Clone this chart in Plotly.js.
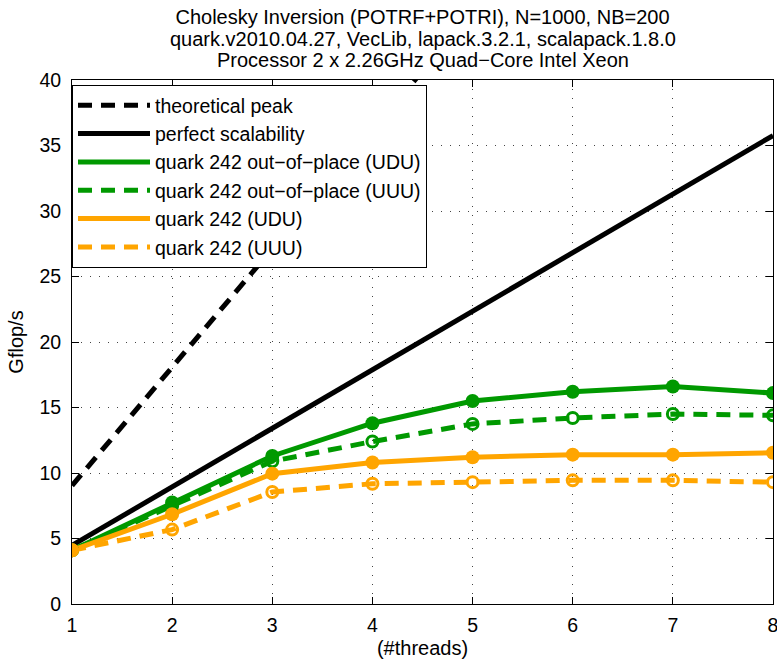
<!DOCTYPE html>
<html><head><meta charset="utf-8">
<script src="https://cdn.plot.ly/plotly-3.0.1.min.js"></script>
<style>html,body{margin:0;padding:0;background:#fff}#chart{width:777px;height:659px}</style>
</head><body><div id="chart"></div>
<script>
const threads = [1, 2, 3, 4, 5, 6, 7, 8];
const theoreticalPeak = [9.04, 18.08, 27.12, 36.16, 45.2, 54.24, 63.28, 72.32];
const perfectScalability = [4.47, 8.94, 13.41, 17.88, 22.35, 26.82, 31.29, 35.76];
const oopUDU = [4.1, 7.75, 11.3, 13.8, 15.5, 16.2, 16.6, 16.1];
const oopUUU = [4.1, 7.5, 10.9, 12.4, 13.75, 14.2, 14.5, 14.4];
const quarkUDU = [4.1, 6.85, 9.95, 10.8, 11.2, 11.4, 11.4, 11.55];
const quarkUUU = [4.1, 5.68, 8.55, 9.18, 9.3, 9.44, 9.44, 9.3];
const titleLines = [
  'Cholesky Inversion (POTRF+POTRI), N=1000, NB=200',
  'quark.v2010.04.27, VecLib, lapack.3.2.1, scalapack.1.8.0',
  'Processor 2 x 2.26GHz Quad\u2212Core Intel Xeon'
];

const GREEN = '#009900', ORANGE = '#FFA500';
const FONT = '"Liberation Sans", Arial, Helvetica, sans-serif';
const lw = 5;
const DASH = '14px,9px';
function line(name, y, color, dash) {
  return {x: threads, y: y, name: name, mode: 'lines', type: 'scatter',
    line: {color: color, width: lw, dash: dash}};
}
function marks(y, color, open) {
  return {x: threads, y: y, mode: 'markers', type: 'scatter', showlegend: false, hoverinfo: 'skip',
    marker: open ? {symbol: 'circle-open', size: 11, color: color, line: {width: 3, color: color}}
                 : {symbol: 'circle', size: 14, color: color}};
}
const traces = [
  line('theoretical peak', theoreticalPeak, '#000', DASH),
  line('perfect scalability', perfectScalability, '#000', 'solid'),
  line('quark 242 out\u2212of\u2212place (UDU)', oopUDU, GREEN, 'solid'),
  line('quark 242 out\u2212of\u2212place (UUU)', oopUUU, GREEN, DASH),
  line('quark 242 (UDU)', quarkUDU, ORANGE, 'solid'),
  line('quark 242 (UUU)', quarkUUU, ORANGE, DASH),
  marks(oopUDU, GREEN, false),
  marks(oopUUU, GREEN, true),
  marks(quarkUDU, ORANGE, false),
  marks(quarkUUU, ORANGE, true)
];
const axisCommon = {
  showline: true, linecolor: '#000', linewidth: 1, mirror: 'ticks',
  ticks: 'inside', ticklen: 7, tickcolor: '#000', tickwidth: 1,
  showgrid: true, gridcolor: '#444', griddash: '1px,8px', gridwidth: 1,
  zeroline: false, ticklabeloverflow: 'allow',
  tickfont: {size: 19.5, color: '#000', family: FONT}
};
const H = 524, T = 80;
function py(pixel) { return (T + H - pixel) / H; }
const layout = {
  width: 777, height: 659,
  margin: {l: 72, r: 4, t: T, b: 55},
  paper_bgcolor: '#fff', plot_bgcolor: '#fff',
  font: {family: FONT, color: '#000', size: 20},
  title: {text: titleLines[0], x: 0.5, xref: 'paper', xanchor: 'center',
    yref: 'container', y: 1 - 17 / 659, yanchor: 'middle', font: {size: 20, color: '#000'}},
  annotations: [
    {text: titleLines[1], xref: 'paper', yref: 'paper', x: 0.5, y: py(39), xanchor: 'center', yanchor: 'middle', showarrow: false, font: {size: 20, color: '#000'}},
    {text: titleLines[2], xref: 'paper', yref: 'paper', x: 0.5, y: py(60), xanchor: 'center', yanchor: 'middle', showarrow: false, font: {size: 20, color: '#000'}}
  ],
  xaxis: Object.assign({}, axisCommon, {range: [1, 8], tickvals: threads, ticklabelstandoff: 4,
    title: {text: '(#threads)', font: {size: 20}, standoff: 6}}),
  yaxis: Object.assign({}, axisCommon, {range: [0, 40], dtick: 5, ticklabelstandoff: 6,
    title: {text: 'Gflop/s', font: {size: 20}, standoff: 10}}),
  legend: {x: 0, xanchor: 'left', y: py(85), yanchor: 'top', bgcolor: '#fff',
    bordercolor: '#000', borderwidth: 1, font: {size: 19.5, color: '#000'},
    tracegroupgap: 0, itemwidth: 72},
  showlegend: true
};
Plotly.newPlot('chart', traces, layout, {displayModeBar: false, staticPlot: true});
</script></body></html>
